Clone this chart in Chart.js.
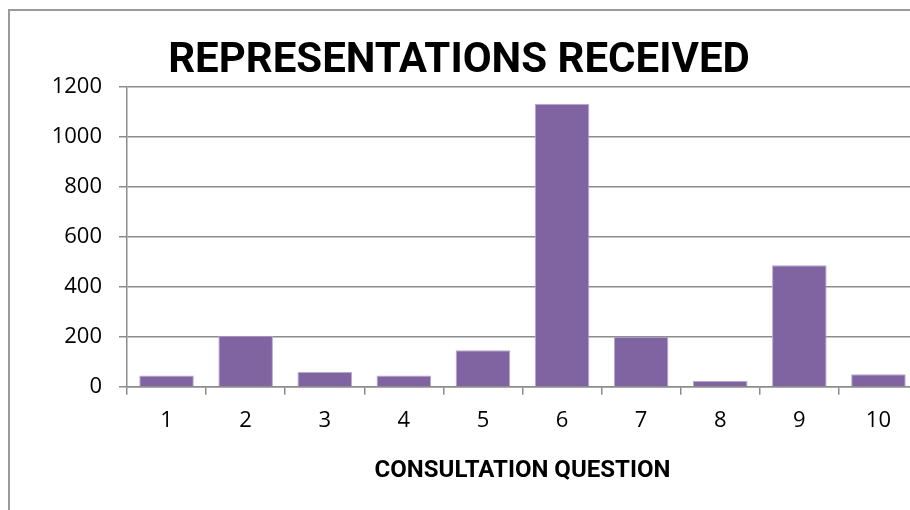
<!DOCTYPE html>
<html>
<head>
<meta charset="utf-8">
<script src="https://cdn.jsdelivr.net/npm/chart.js@4.4.0/dist/chart.umd.min.js"></script>
<style>
  html, body { margin: 0; padding: 0; background: #fff; overflow: hidden; }
  #wrap { position: absolute; left: 0; top: 0; width: 918px; height: 510px; }
</style>
</head>
<body>
<div id="wrap"><canvas id="c"></canvas></div>
<script>
const categories = ['1', '2', '3', '4', '5', '6', '7', '8', '9', '10'];
const representations = [45, 204, 59, 45, 146, 1133, 200, 23, 487, 50];
const yTicks = [0, 200, 400, 600, 800, 1000, 1200];
const chartTitle = 'REPRESENTATIONS RECEIVED';
const xTitle = 'CONSULTATION QUESTION';

const GRID = '#8c8c8c';

const framePlugin = {
  id: 'frame',
  beforeDraw(chart) {
    const ctx = chart.ctx;
    ctx.save();
    ctx.fillStyle = '#fff';
    ctx.fillRect(0, 0, chart.width, chart.height);
    ctx.strokeStyle = '#9a9a9a';
    ctx.lineWidth = 2;
    ctx.beginPath();
    ctx.moveTo(9, chart.height + 5);
    ctx.lineTo(9, 10);
    ctx.lineTo(chart.width + 5, 10);
    ctx.stroke();
    ctx.restore();
  }
};

new Chart(document.getElementById('c'), {
  type: 'bar',
  data: {
    labels: categories,
    datasets: [{
      data: representations,
      backgroundColor: '#8064a2',
      borderColor: '#b9a9cf',
      borderWidth: 1,
      barPercentage: 0.69,
      categoryPercentage: 1.0
    }]
  },
  options: {
    responsive: true,
    maintainAspectRatio: false,
    animation: false,
    layout: { padding: { left: 0, right: 0, top: 0, bottom: 21 } },
    plugins: {
      legend: { display: false },
      tooltip: { enabled: false },
      title: {
        display: true,
        text: chartTitle,
        color: '#000',
        font: { family: 'Roboto', size: 42, weight: 'bold', lineHeight: 1.2 },
        padding: { top: 36, bottom: 0.6 }
      }
    },
    scales: {
      x: {
        offset: true,
        grid: {
          offset: true,
          drawOnChartArea: false,
          drawTicks: true,
          tickLength: 8,
          color: GRID,
          lineWidth: 1.5
        },
        border: { display: true, color: GRID, width: 1.5 },
        ticks: {
          color: '#000',
          padding: 13,
          font: { family: 'Open Sans', size: 22 }
        },
        title: {
          display: true,
          text: xTitle,
          color: '#000',
          font: { family: 'Roboto', size: 24, weight: 'bold', lineHeight: 1.2 },
          padding: { top: 9, bottom: 4 }
        }
      },
      y: {
        min: 0,
        max: 1200,
        afterBuildTicks(scale) {
          scale.ticks = yTicks.map(v => ({ value: v }));
        },
        afterFit(scale) { scale.width = 127; },
        grid: {
          drawTicks: true,
          tickLength: 8,
          color: GRID,
          lineWidth: 1.5
        },
        border: { display: true, color: GRID, width: 1.5 },
        ticks: {
          color: '#000',
          padding: 17,
          font: { family: 'Open Sans', size: 22 },
          callback: (v) => String(v)
        }
      }
    }
  },
  plugins: [framePlugin]
});
</script>
</body>
</html>
